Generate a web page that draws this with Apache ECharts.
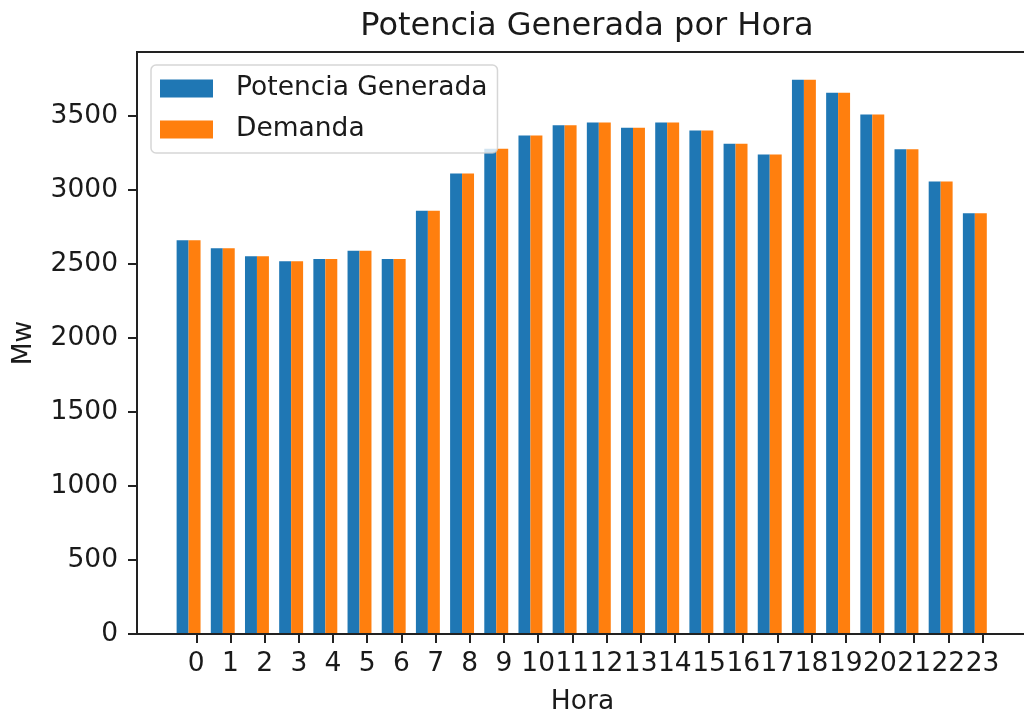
<!DOCTYPE html>
<html>
<head>
<meta charset="utf-8">
<title>Potencia Generada por Hora</title>
<script src="https://cdn.jsdelivr.net/npm/echarts@6/dist/echarts.min.js"></script>
<style>
	html, body { margin: 0; padding: 0; background: #fff; }
	#chartView { width: 1024px; height: 716px; }
</style>
</head>
<body>
<div id="chartView"></div>
<script>
var horas = [0, 1, 2, 3, 4, 5, 6, 7, 8, 9, 10, 11, 12, 13, 14, 15, 16, 17, 18, 19, 20, 21, 22, 23];
var potenciaGenerada = [2660, 2606, 2552, 2518, 2534, 2590, 2534, 2859, 3111, 3278, 3368, 3438,
	3456, 3420, 3456, 3402, 3312, 3240, 3745, 3657, 3510, 3275, 3057, 2843];
var demanda = [2660, 2606, 2552, 2518, 2534, 2590, 2534, 2859, 3111, 3278, 3368, 3438,
	3456, 3420, 3456, 3402, 3312, 3240, 3745, 3657, 3510, 3275, 3057, 2843];
var yTicks = [0, 500, 1000, 1500, 2000, 2500, 3000, 3500];

var FONT = 'DejaVu Sans';
var TEXT_COLOR = '#1a1a1a';
var BAR_W = 0.35;       // ancho de barra en unidades de hora
var OFF_GEN = -0.4;     // desplazamiento de la barra azul
var OFF_DEM = -0.05;    // desplazamiento de la barra naranja

function toPoints(values, offset){
	var out = [];
	for (var i = 0; i < horas.length; i++) {
		out.push([horas[i] + offset, values[i]]);
	}
	return out;
}

function initChart(){
	var myChart = echarts.init(document.getElementById('chartView'), null, {renderer: 'canvas'});

	var xMin = -1.734, xMax = 24.33;
	var gridLeft = 137, gridRight = -4;
	var pxPerUnit = (1024 - gridLeft - gridRight) / (xMax - xMin);
	var yMax = Math.max.apply(null, potenciaGenerada.concat(demanda)) * 1.05;

	var option = {
		animation: false,
		backgroundColor: '#fff',
		title: {
			text: 'Potencia Generada por Hora',
			left: 582,
			textAlign: 'center',
			top: 6,
			textStyle: {fontFamily: FONT, fontSize: 32, fontWeight: 'normal', color: TEXT_COLOR}
		},
		legend: {
			orient: 'vertical',
			left: 151,
			top: 65,
			icon: 'rect',
			itemWidth: 53,
			itemHeight: 18,
			itemGap: 14,
			padding: [10, 10, 10, 9],
			backgroundColor: 'rgba(255,255,255,0.8)',
			borderColor: 'rgba(204,204,204,0.8)',
			borderWidth: 1.5,
			borderRadius: 5,
			textStyle: {fontFamily: FONT, fontSize: 26.5, color: TEXT_COLOR, padding: [0, 0, 0, 18]},
			data: ['Potencia Generada', 'Demanda']
		},
		grid: {
			left: gridLeft,
			right: gridRight,
			top: 52,
			bottom: 82,
			outerBoundsMode: 'none',
			containLabel: false,
			show: true,
			borderColor: '#222',
			borderWidth: 2
		},
		xAxis: {
			type: 'value',
			min: xMin,
			max: xMax,
			z: 5,
			name: 'Hora',
			nameLocation: 'middle',
			nameGap: 55,
			nameTextStyle: {fontFamily: FONT, fontSize: 26.5, color: TEXT_COLOR},
			splitLine: {show: false},
			axisLine: {show: true, onZero: false, lineStyle: {color: '#222', width: 2}},
			axisTick: {show: true, length: 9, customValues: horas, lineStyle: {color: '#222', width: 2}},
			axisLabel: {
				customValues: horas,
				margin: 17,
				fontFamily: FONT, fontSize: 26.5, color: TEXT_COLOR
			}
		},
		yAxis: {
			type: 'value',
			min: 0,
			max: yMax,
			z: 5,
			name: 'Mw',
			nameLocation: 'middle',
			nameGap: 99,
			nameTextStyle: {fontFamily: FONT, fontSize: 26.5, color: TEXT_COLOR},
			splitLine: {show: false},
			axisLine: {show: true, onZero: false, lineStyle: {color: '#222', width: 2}},
			axisTick: {show: true, length: 9, customValues: yTicks, lineStyle: {color: '#222', width: 2}},
			axisLabel: {
				customValues: yTicks,
				margin: 19,
				formatter: function(v){ return String(v); },
				fontFamily: FONT, fontSize: 26.5, color: TEXT_COLOR
			}
		},
		series: [{
			name: 'Potencia Generada',
			type: 'bar',
			barWidth: BAR_W * pxPerUnit,
			barGap: '-100%',
			itemStyle: {color: '#1f77b4'},
			data: toPoints(potenciaGenerada, OFF_GEN)
		}, {
			name: 'Demanda',
			type: 'bar',
			barWidth: BAR_W * pxPerUnit,
			barGap: '-100%',
			itemStyle: {color: '#ff7f0e'},
			data: toPoints(demanda, OFF_DEM)
		}]
	};

	myChart.setOption(option);
}

initChart();
</script>
</body>
</html>
